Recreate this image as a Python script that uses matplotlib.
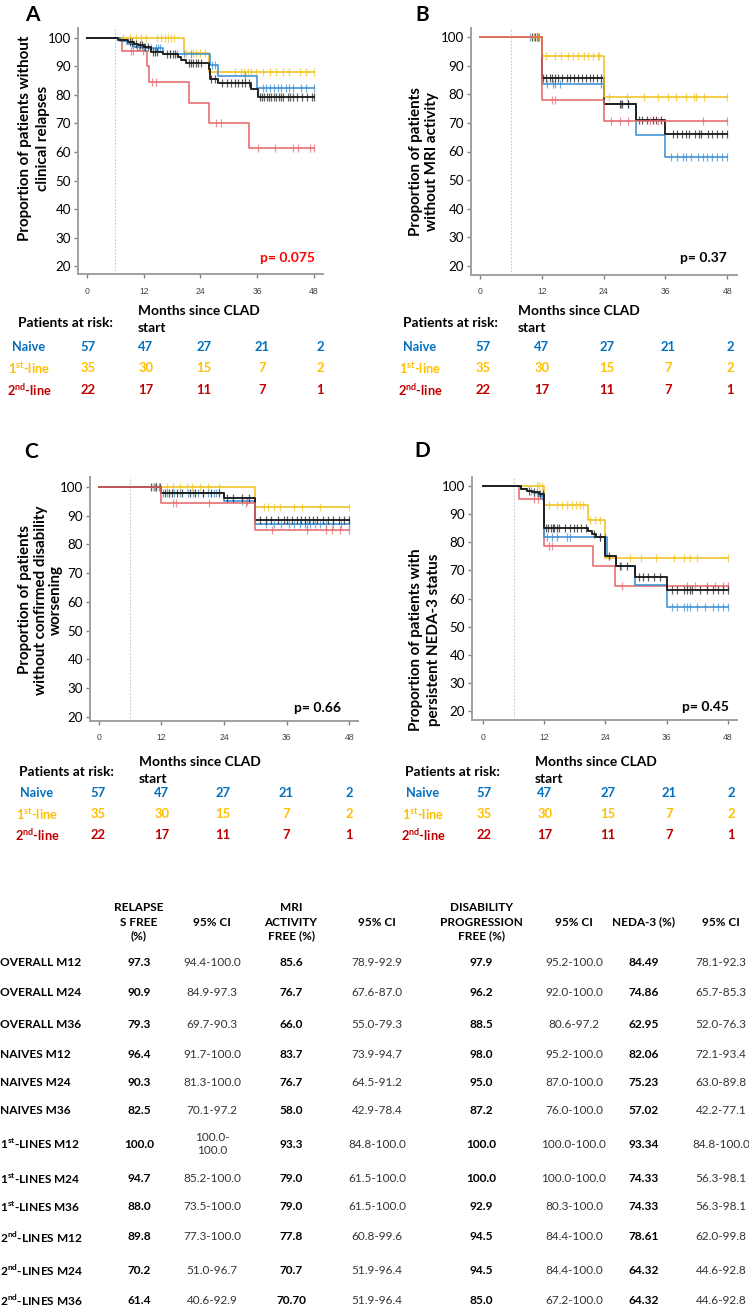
import numpy as np
import matplotlib
matplotlib.use("Agg")
import matplotlib.pyplot as plt

# ---------------- DATA ----------------
groups = ["Naive", "1st-line", "2nd-line"]
months_ticks = [0, 12, 24, 36, 48]
y_ticks = [20, 30, 40, 50, 60, 70, 80, 90, 100]

# Panel A - clinical relapses
A_naive_t = [0, 7.0, 8.5, 10.0, 12.5, 16.0, 26.0, 27.8, 36.0]
A_naive_s = [100, 99.0, 98.0, 97.0, 96.4, 94.3, 90.5, 86.5, 82.5]
A_naive_c = [9.5, 10.5, 11.0, 12.0, 13.5, 14.5, 15.0, 15.5, 17.5, 19.0, 20.5, 22.0, 26.5, 27.0, 33.5,
             37.2, 37.9, 38.6, 39.5, 40.4, 41.0, 42.1, 42.8, 43.5, 45.3, 46.4, 48.0]
A_first_t = [0, 20.5, 25.7]
A_first_s = [100, 94.7, 88.0]
A_first_c = [7.6, 9.0, 10.4, 11.5, 12.5, 14.7, 15.7, 16.4, 17.1, 17.8, 18.5, 21.0, 22.4, 23.1, 23.8, 24.9,
             31.4, 32.6, 33.3, 34.0, 34.7, 35.8, 37.2, 38.6, 40.0, 41.4, 42.8, 45.0, 46.4, 48.0]
A_second_t = [0, 7.3, 12.7, 13.1, 21.6, 25.9, 34.2]
A_second_s = [100, 95.5, 90.0, 84.5, 77.2, 70.2, 61.4]
A_second_c = [9.4, 9.8, 11.8, 13.8, 14.5, 27.2, 28.4, 36.2, 39.7, 43.6, 44.7, 47.1, 48.0]
A_all_t = [0, 6.6, 8.7, 10.0, 10.8, 12.0, 13.6, 16.1, 19.2, 19.9, 21.0, 25.7, 26.0, 27.7, 34.7, 36.1]
A_all_s = [100, 99.2, 98.5, 98.0, 97.6, 96.8, 95.0, 94.3, 93.3, 92.2, 91.2, 89.2, 85.7, 84.2, 82.2, 79.3]
A_all_c = [9.0, 9.5, 10.3, 11.2, 11.7, 12.3, 13.0, 13.9, 14.3, 14.8, 17.0, 17.5, 18.2, 18.7, 21.5, 22.0,
           22.5, 23.0, 23.5, 24.2, 26.3, 27.0, 28.5, 29.5, 30.5, 31.3, 32.0, 32.8, 33.5, 34.2, 36.5, 37.0,
           37.5, 38.0, 38.5, 39.0, 39.5, 40.0, 40.5, 41.0, 41.5, 42.5, 43.0, 43.5, 44.5, 45.5, 46.5, 47.5, 48.0]

# Panel B - MRI activity
B_naive_t = [0, 12, 24, 30.2, 36]
B_naive_s = [100, 83.7, 76.7, 65.9, 58.0]
B_naive_c = [9.8, 10.4, 11.0, 11.5, 13.0, 14.2, 14.6, 15.5, 23.5, 27.3, 28.8, 37.0, 38.2, 39.5, 40.0,
             41.0, 42.3, 43.3, 44.0, 45.0, 46.0, 47.0, 48.0]
B_first_t = [0, 12, 24]
B_first_s = [100, 93.3, 79.0]
B_first_c = [10.5, 11.3, 12.9, 14.5, 15.8, 17.1, 18.1, 19.1, 20.1, 21.0, 22.0, 23.0, 23.2, 25.0, 28.5,
             31.8, 34.5, 36.5, 38.0, 40.0, 41.5, 42.0, 43.5, 48.0]
B_second_t = [0, 12, 24]
B_second_s = [100, 77.8, 70.7]
B_second_c = [11.0, 13.9, 14.5, 25.5, 27.2, 28.8, 33.0, 34.5, 43.3, 48.0]
B_all_t = [0, 12, 24, 30.2, 36]
B_all_s = [100, 85.6, 76.7, 71.0, 66.0]
B_all_c = [10.0, 10.7, 11.2, 12.3, 12.8, 13.5, 14.0, 14.5, 15.2, 16.0, 16.8, 17.5, 18.3, 19.0, 19.8,
           20.5, 21.3, 22.0, 22.8, 23.5, 27.2, 27.5, 28.8, 30.8, 31.4, 32.4, 33.6, 34.2, 35.2, 37.5,
           38.3, 39.3, 40.0, 40.5, 41.8, 42.5, 43.0, 44.2, 45.0, 46.0, 47.0, 48.0]

# Panel C - confirmed disability worsening
C_naive_t = [0, 12, 24, 30]
C_naive_s = [100, 98.0, 95.0, 87.2]
C_naive_c = [10.5, 11.5, 12.3, 13.0, 14.5, 15.5, 17.0, 18.0, 19.0, 20.0, 21.0, 22.0, 22.5, 27.5, 28.5,
             32.0, 33.5, 35.0, 36.5, 37.5, 38.5, 39.5, 40.0, 40.5, 41.5, 42.5, 43.5, 45.0, 46.5, 48.0]
C_first_t = [0, 30]
C_first_s = [100, 92.9]
C_first_c = [10.3, 11.0, 13.0, 14.3, 15.6, 16.9, 17.8, 19.4, 21.0, 23.0, 31.6, 32.5, 33.5, 34.7, 37.4,
             39.0, 42.5, 48.0]
C_second_t = [0, 12, 30]
C_second_s = [100, 94.5, 85.0]
C_second_c = [10.8, 14.2, 14.7, 21.2, 28.3, 33.2, 40.0, 43.5, 44.7, 46.3, 48.0]
C_all_t = [0, 12, 24, 30]
C_all_s = [100, 97.9, 96.2, 88.5]
C_all_c = [10.0, 11.0, 11.8, 12.6, 13.4, 14.0, 15.0, 16.0, 17.5, 18.5, 20.0, 21.5, 23.0, 24.5, 25.8,
           27.4, 28.7, 31.0, 32.0, 33.0, 34.3, 35.5, 36.0, 37.0, 38.0, 38.8, 39.5, 40.3, 41.0, 41.8,
           43.0, 44.0, 45.0, 46.0, 47.0, 48.0]

# Panel D - NEDA-3
D_naive_t = [0, 7.4, 8.6, 10.0, 11.0, 12.0, 24.3, 26.0, 29.8, 36.1]
D_naive_s = [100, 99.0, 98.2, 97.5, 96.5, 82.0, 75.0, 71.5, 64.9, 57.0]
D_naive_c = [9.5, 10.5, 11.5, 12.5, 13.5, 14.5, 16.5, 17.0, 23.0, 24.0, 27.0, 37.0, 38.0, 39.5, 40.0,
             40.5, 42.0, 43.5, 45.0, 46.0, 47.0, 48.0]
D_first_t = [0, 12, 20.5, 24]
D_first_s = [100, 93.3, 87.9, 74.3]
D_first_c = [10.5, 11.0, 11.5, 13.0, 14.5, 15.5, 16.5, 17.5, 18.3, 19.0, 19.6, 21.0, 22.0, 23.0, 28.8,
             31.0, 34.0, 37.5, 39.5, 40.5, 42.0, 48.0]
D_second_t = [0, 7.1, 12.0, 21.6, 25.9]
D_second_s = [100, 95.5, 78.6, 71.4, 64.3]
D_second_c = [10.0, 10.8, 13.0, 13.5, 27.3, 40.0, 41.5, 44.0, 45.5, 47.0, 48.0]
D_all_t = [0, 7.4, 8.6, 9.6, 11.0, 12.0, 20.6, 21.3, 22.2, 24.0, 26.0, 29.8, 36.1]
D_all_s = [100, 99.0, 98.4, 97.8, 97.0, 85.0, 84.0, 83.0, 82.0, 75.0, 71.6, 67.6, 63.0]
D_all_c = [9.0, 10.0, 11.2, 11.7, 12.3, 12.8, 13.3, 13.7, 14.0, 14.5, 15.0, 16.0, 17.0, 17.8, 18.5,
           19.3, 20.2, 21.8, 23.0, 24.8, 26.8, 28.3, 30.5, 31.3, 32.3, 33.5, 34.7, 37.0, 38.0, 39.5,
           40.0, 40.5, 41.0, 42.5, 44.0, 45.0, 46.0, 47.0, 48.0]

# at-risk counts (same for each panel)
risk_naive = [57, 47, 27, 21, 2]
risk_first = [35, 30, 15, 7, 2]
risk_second = [22, 17, 11, 7, 1]

p_values = ["p= 0.075", "p= 0.37", "p= 0.66", "p= 0.45"]
panel_letters = ["A", "B", "C", "D"]
ylabels = [["Proportion of patients without", "clinical relapses"],
           ["Proportion of patients", "without MRI activity"],
           ["Proportion of patients", "without confirmed disability", "worsening"],
           ["Proportion of patients with", "persistent NEDA-3 status"]]

# summary table
tbl_headers = ["RELAPSE\nS FREE\n(%)", "95% CI", "MRI\nACTIVITY\nFREE (%)", "95% CI",
               "DISABILITY\nPROGRESSION\nFREE (%)", "95% CI", "NEDA-3 (%)", "95% CI"]
tbl_rows = ["OVERALL M12", "OVERALL M24", "OVERALL M36", "NAIVES M12", "NAIVES M24", "NAIVES M36",
            r"1$^{\mathbf{st}}$-LINES M12", r"1$^{\mathbf{st}}$-LINES M24", r"1$^{\mathbf{st}}$-LINES M36",
            r"2$^{\mathbf{nd}}$-LINES M12", r"2$^{\mathbf{nd}}$-LINES M24", r"2$^{\mathbf{nd}}$-LINES M36"]
relapse_free = ["97.3", "90.9", "79.3", "96.4", "90.3", "82.5", "100.0", "94.7", "88.0", "89.8", "70.2", "61.4"]
relapse_ci = ["94.4-100.0", "84.9-97.3", "69.7-90.3", "91.7-100.0", "81.3-100.0", "70.1-97.2",
              "100.0-\n100.0", "85.2-100.0", "73.5-100.0", "77.3-100.0", "51.0-96.7", "40.6-92.9"]
mri_free = ["85.6", "76.7", "66.0", "83.7", "76.7", "58.0", "93.3", "79.0", "79.0", "77.8", "70.7", "70.70"]
mri_ci = ["78.9-92.9", "67.6-87.0", "55.0-79.3", "73.9-94.7", "64.5-91.2", "42.9-78.4",
          "84.8-100.0", "61.5-100.0", "61.5-100.0", "60.8-99.6", "51.9-96.4", "51.9-96.4"]
dis_free = ["97.9", "96.2", "88.5", "98.0", "95.0", "87.2", "100.0", "100.0", "92.9", "94.5", "94.5", "85.0"]
dis_ci = ["95.2-100.0", "92.0-100.0", "80.6-97.2", "95.2-100.0", "87.0-100.0", "76.0-100.0",
          "100.0-100.0", "100.0-100.0", "80.3-100.0", "84.4-100.0", "84.4-100.0", "67.2-100.0"]
neda3 = ["84.49", "74.86", "62.95", "82.06", "75.23", "57.02", "93.34", "74.33", "74.33", "78.61", "64.32", "64.32"]
neda3_ci = ["78.1-92.3", "65.7-85.3", "52.0-76.3", "72.1-93.4", "63.0-89.8", "42.2-77.1",
            "84.8-100.0", "56.3-98.1", "56.3-98.1", "62.0-99.8", "44.6-92.8", "44.6-92.8"]

# ---------------- STYLE ----------------
W, H = 749, 1308
plt.rcParams['font.family'] = ['Lato', 'DejaVu Sans']
plt.rcParams['mathtext.fontset'] = 'custom'
plt.rcParams['mathtext.bf'] = 'Lato:bold'
plt.rcParams['mathtext.rm'] = 'Lato'

curve_col = {"naive": "#3a8ed6", "first": "#f2c21b", "second": "#e5686a", "all": "#1a1a1a"}
text_col = ["#0070C0", "#FFC000", "#C00000"]

fig = plt.figure(figsize=(W / 100, H / 100), dpi=100)


def fx(x):
    return x / W


def fy(y):
    return 1 - y / H


def surv_at(t, s, x):
    t = np.asarray(t)
    s = np.asarray(s)
    idx = np.searchsorted(t, np.asarray(x), side="right") - 1
    return s[idx]


panels = [
    dict(box=(78, 323, 28, 274), xlim=(-1.9, 49.9), ylim=(17.2, 103.5),
         data=[(A_second_t, A_second_s, A_second_c, "second"), (A_first_t, A_first_s, A_first_c, "first"),
               (A_naive_t, A_naive_s, A_naive_c, "naive"), (A_all_t, A_all_s, A_all_c, "all")],
         letter=(32, 15), ylab=((25, 43), 138), pval=(315, 258, "#FF0000"),
         risk=dict(pat=(18, 323), mon=(138, 311, 328), lab_x=29, rows=(347, 368, 390),
                   cols=(88, 146, 204, 262, 320))),
    dict(box=(471, 737, 28, 275), xlim=(-1.75, 49.9), ylim=(16.9, 103.1),
         data=[(B_naive_t, B_naive_s, B_naive_c, "naive"), (B_all_t, B_all_s, B_all_c, "all"),
               (B_first_t, B_first_s, B_first_c, "first"), (B_second_t, B_second_s, B_second_c, "second")],
         letter=(422, 15), ylab=((416, 432), 162), pval=(727, 258, "black"),
         risk=dict(pat=(403, 323), mon=(518, 311, 328), lab_x=420, rows=(347, 368, 390),
                   cols=(483, 542, 607, 668, 730))),
    dict(box=(90, 358, 477, 721), xlim=(-1.7, 49.7), ylim=(18.5, 103.5),
         data=[(C_first_t, C_first_s, C_first_c, "first"), (C_naive_t, C_naive_s, C_naive_c, "naive"),
               (C_all_t, C_all_s, C_all_c, "all"), (C_second_t, C_second_s, C_second_c, "second")],
         letter=(31, 452), ylab=((25, 41, 56), 600), pval=(341, 708, "black"),
         risk=dict(pat=(19, 772), mon=(139, 762, 779), lab_x=37, rows=(793, 814, 835),
                   cols=(98, 162, 223, 286, 349))),
    dict(box=(472, 737, 477, 720), xlim=(-2.15, 49.8), ylim=(16.8, 103.2),
         data=[(D_second_t, D_second_s, D_second_c, "second"), (D_first_t, D_first_s, D_first_c, "first"),
               (D_naive_t, D_naive_s, D_naive_c, "naive"), (D_all_t, D_all_s, D_all_c, "all")],
         letter=(422, 451), ylab=((416, 434), 640), pval=(729, 707, "black"),
         risk=dict(pat=(405, 772), mon=(535, 762, 779), lab_x=423, rows=(793, 814, 835),
                   cols=(484, 545, 608, 669, 731))),
]

risk_sets = [risk_naive, risk_first, risk_second]
risk_labels = ["Naive", r"1$^{\mathbf{st}}$-line", r"2$^{\mathbf{nd}}$-line"]

for i, p in enumerate(panels):
    l, r, t, b = p["box"]
    ax = fig.add_axes([fx(l), fy(b), (r - l) / W, (b - t) / H])
    ax.set_xlim(*p["xlim"])
    ax.set_ylim(*p["ylim"])
    for sp in ("top", "right"):
        ax.spines[sp].set_visible(False)
    for sp in ("left", "bottom"):
        ax.spines[sp].set_color("#a0a0a0")
        ax.spines[sp].set_linewidth(1.4)
    ax.set_xticks(months_ticks)
    ax.set_yticks(y_ticks)
    ax.tick_params(axis="y", length=3, width=1, color="#808080", labelsize=9.6, pad=2)
    ax.tick_params(axis="x", length=3, width=1, color="#808080", labelsize=6.2, pad=6,
                   labelcolor="#444444")
    for lab in ax.get_xticklabels():
        lab.set_family("Liberation Sans")
    ax.axvline(6, color="#c8c8c8", lw=0.8, ls=(0, (1.5, 1.5)), zorder=1)
    for z, (tt, ss, cc, key) in enumerate(p["data"]):
        col = curve_col[key]
        lw = 1.4 if key == "all" else 1.2
        ax.step(list(tt) + [48], list(ss) + [ss[-1]], where="post", color=col, lw=lw, zorder=3 + z,
                alpha=0.95)
        ax.plot(cc, surv_at(tt, ss, cc), ls="none", marker="|", ms=5.5, mew=0.9, color=col,
                alpha=0.7, zorder=3 + z)

    fig.text(fx(p["letter"][0]), fy(p["letter"][1]), panel_letters[i], fontsize=15, fontweight="bold",
             ha="center", va="center")
    xs, yc = p["ylab"]
    for line, lx in zip(ylabels[i], xs):
        fig.text(fx(lx), fy(yc), line, fontsize=10.9, fontweight="bold",
                 rotation=90, ha="center", va="center")
    fig.text(fx(p["pval"][0]), fy(p["pval"][1]), p_values[i], fontsize=10, fontweight="bold",
             color=p["pval"][2], ha="right", va="center")

    rk = p["risk"]
    fig.text(fx(rk["pat"][0]), fy(rk["pat"][1]), "Patients at risk:", fontsize=9.9, fontweight="bold",
             ha="left", va="center")
    fig.text(fx(rk["mon"][0]), fy(rk["mon"][1]), "Months since CLAD", fontsize=9.9, fontweight="bold",
             ha="left", va="center")
    fig.text(fx(rk["mon"][0]), fy(rk["mon"][2]), "start", fontsize=9.9, fontweight="bold",
             ha="left", va="center")
    for g in range(3):
        fig.text(fx(rk["lab_x"]), fy(rk["rows"][g]), risk_labels[g], fontsize=9.2, fontweight="bold",
                 color=text_col[g], ha="center", va="center")
        for k, n in enumerate(risk_sets[g]):
            fig.text(fx(rk["cols"][k]), fy(rk["rows"][g]), str(n), fontsize=9.4, fontweight="bold",
                     color=text_col[g], ha="center", va="center")

# ---------------- SUMMARY TABLE ----------------
col_x = [139, 212, 291, 377, 481, 574, 644, 721]
header_y = 922
row_y = [962, 992, 1024, 1054, 1082, 1110, 1144, 1179, 1207, 1237, 1270, 1300]
columns = [relapse_free, relapse_ci, mri_free, mri_ci, dis_free, dis_ci, neda3, neda3_ci]

for j, h in enumerate(tbl_headers):
    fig.text(fx(col_x[j]), fy(header_y), h, fontsize=8.5, fontweight="bold", ha="center", va="center",
             multialignment="center", linespacing=1.35)
for i, rname in enumerate(tbl_rows):
    fig.text(fx(0), fy(row_y[i]), rname, fontsize=8.6, fontweight="bold", ha="left", va="center")
    for j, col in enumerate(columns):
        bold = (j % 2 == 0)
        fig.text(fx(col_x[j]), fy(row_y[i]), col[i], fontsize=8.6 if bold else 8.5,
                 fontweight="bold" if bold else "normal",
                 color="black" if bold else "#333333", ha="center", va="center",
                 multialignment="center", linespacing=1.2)

fig.savefig("out.png", dpi=100)
